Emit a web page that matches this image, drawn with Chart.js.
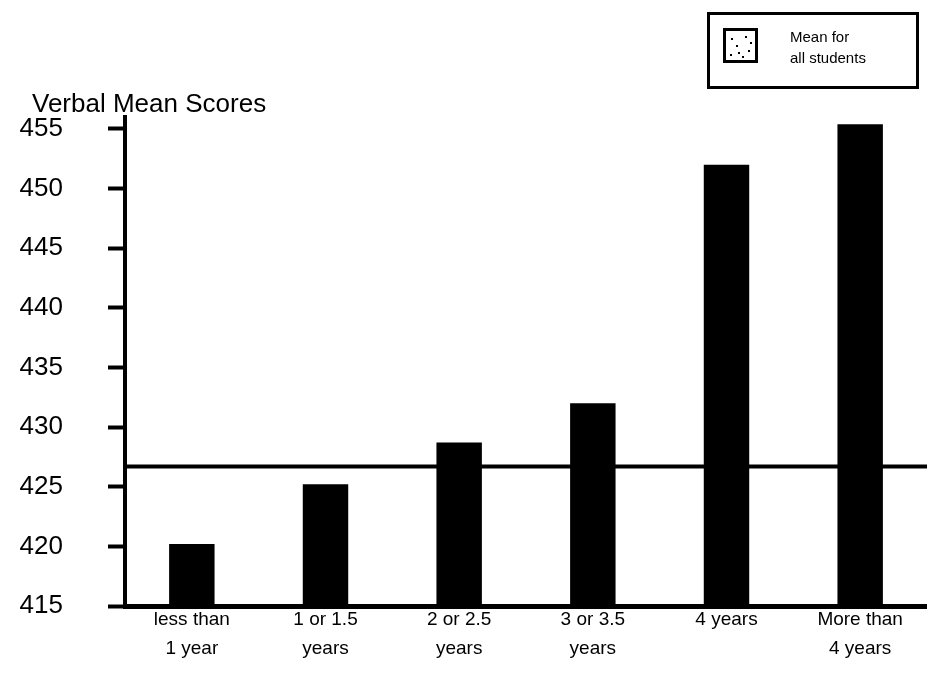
<!DOCTYPE html>
<html><head><meta charset="utf-8">
<script src="https://cdn.jsdelivr.net/npm/chart.js@4.4.0/dist/chart.umd.min.js"></script>
<style>html,body{margin:0;padding:0;background:#fff}#wrap{position:relative;width:927px;height:686px}</style>
</head><body><div id="wrap"><canvas id="c" width="927" height="686"></canvas></div>
<script>
const categories = [['less than','1 year'],['1 or 1.5','years'],['2 or 2.5','years'],['3 or 3.5','years'],['4 years'],['More than','4 years']];
const verbalMeans = [420.2, 425.2, 428.7, 432.0, 452.0, 455.4];
const overallMean = 426.7;
const yTicks = [415, 420, 425, 430, 435, 440, 445, 450, 455];
const chartTitle = 'Verbal Mean Scores';
const legendLines = ['Mean for', 'all students'];

const FONT = '"Liberation Sans", Arial, Helvetica, sans-serif';
Chart.defaults.font.family = FONT;
Chart.defaults.color = '#000';

const decor = {
  id: 'decor',
  beforeDatasetsDraw(chart) {
    const {ctx, chartArea, scales} = chart;
    const y = scales.y.getPixelForValue(overallMean);
    ctx.save();
    ctx.strokeStyle = '#000';
    ctx.lineWidth = 4;
    ctx.beginPath();
    ctx.moveTo(chartArea.left, y);
    ctx.lineTo(chartArea.right, y);
    ctx.stroke();
    ctx.restore();
  },
  afterDraw(chart) {
    const ctx = chart.ctx;
    ctx.save();
    ctx.fillStyle = '#000';
    ctx.font = '26px ' + FONT;
    ctx.textBaseline = 'alphabetic';
    ctx.textAlign = 'left';
    ctx.fillText(chartTitle, 32, 112);
    // legend box
    ctx.strokeStyle = '#000';
    ctx.lineWidth = 3;
    ctx.strokeRect(708.5, 13.5, 209, 74);
    ctx.strokeRect(724.5, 29.5, 32, 32);
    const dots = [[731,38],[745,36],[736,45],[748,50],[730,54],[742,56],[750,42],[738,52]];
    dots.forEach(d => ctx.fillRect(d[0], d[1], 2, 2));
    ctx.font = '15px ' + FONT;
    ctx.fillText(legendLines[0], 790, 42);
    ctx.fillText(legendLines[1], 790, 63);
    ctx.restore();
  }
};

new Chart(document.getElementById('c'), {
  type: 'bar',
  data: {
    labels: categories,
    datasets: [{
      data: verbalMeans,
      backgroundColor: '#000',
      borderWidth: 0,
      barPercentage: 0.34,
      categoryPercentage: 1
    }]
  },
  options: {
    responsive: false,
    animation: false,
    devicePixelRatio: 1,
    layout: {padding: {top: 117, left: 0, right: 0, bottom: 0}},
    plugins: {legend: {display: false}, tooltip: {enabled: false}, title: {display: false}},
    scales: {
      x: {
        offset: true,
        grid: {display: false, drawTicks: false},
        border: {display: true, color: '#000', width: 5},
        ticks: {font: {size: 19, lineHeight: 1.5}, padding: 0, color: '#000', maxRotation: 0, autoSkip: false},
        afterFit(scale) { scale.height = 80; }
      },
      y: {
        min: 415,
        max: 456,
        grid: {drawOnChartArea: false, drawTicks: true, tickLength: 17, tickWidth: 4, tickColor: '#000'},
        border: {display: true, color: '#000', width: 4},
        ticks: {font: {size: 26}, padding: 45, color: '#000', stepSize: 5},
        afterBuildTicks(scale) { scale.ticks = yTicks.map(v => ({value: v})); },
        afterFit(scale) { scale.width = 125; }
      }
    }
  },
  plugins: [decor]
});
</script></body></html>
